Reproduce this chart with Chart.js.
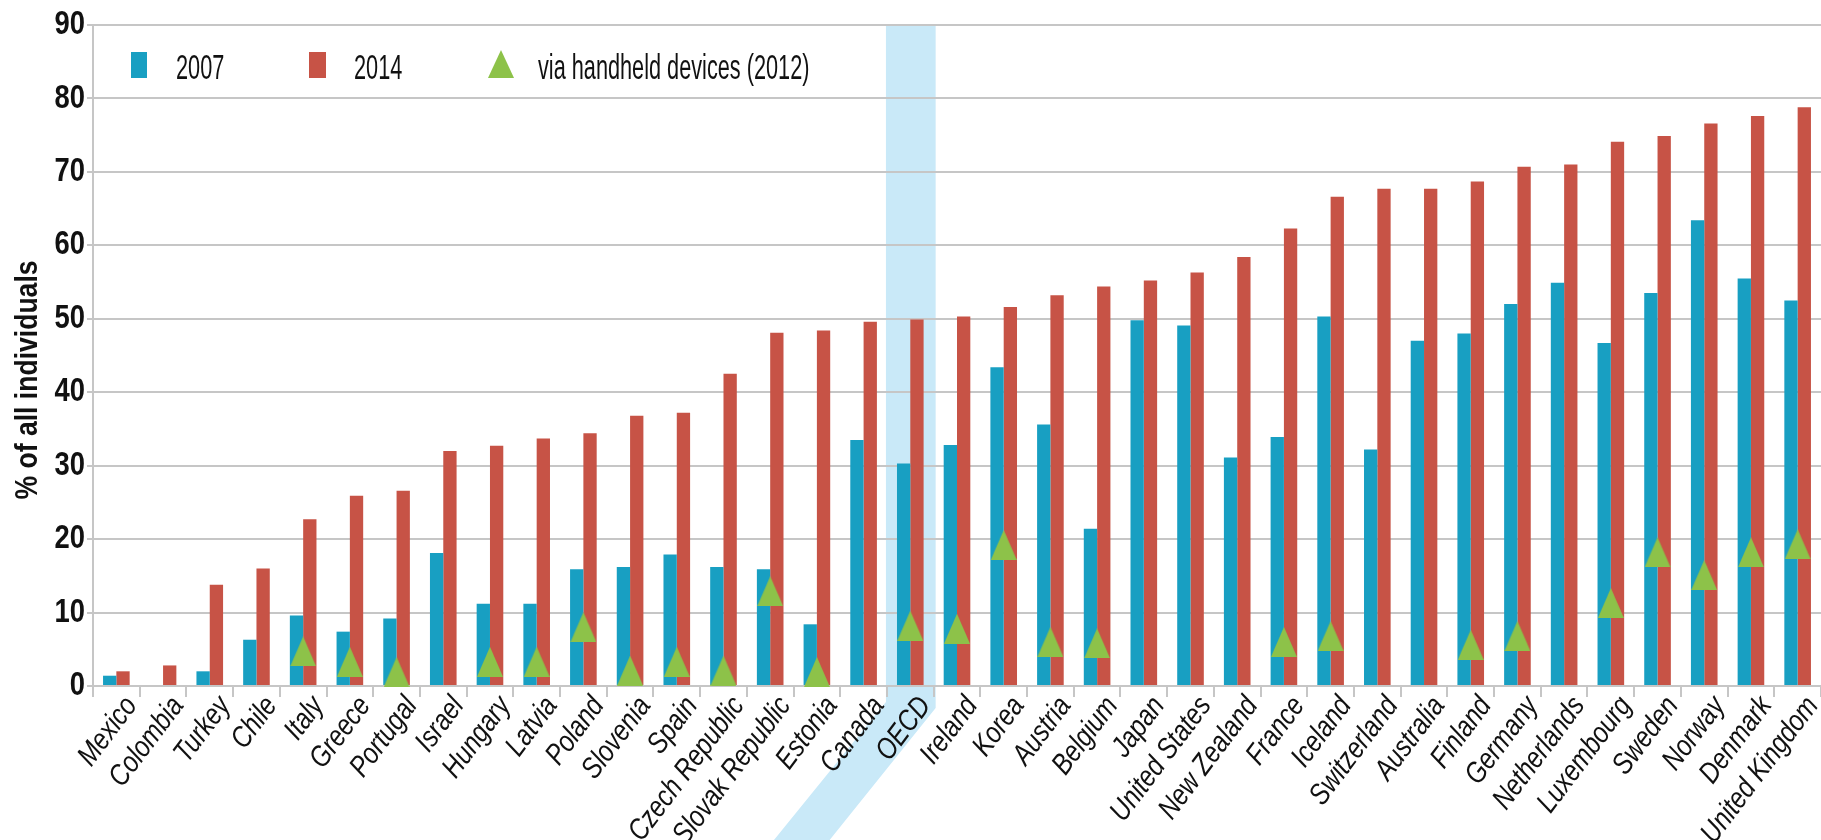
<!DOCTYPE html>
<html><head><meta charset="utf-8">
<script src="https://cdn.jsdelivr.net/npm/chart.js@4/dist/chart.umd.min.js"></script>
<style>
html,body{margin:0;padding:0;background:#fff;overflow:hidden}
#wrap{position:relative;width:1821px;height:840px}
canvas{display:block}
.lg{position:absolute;font-family:"Liberation Sans",Arial,sans-serif;font-size:35px;line-height:35px;color:#111;white-space:nowrap;transform:scaleX(0.62);transform-origin:0 0}
.sw{position:absolute}
</style></head><body>
<div id="wrap">
<canvas id="c" width="1821" height="840"></canvas>
<div class="sw" style="left:131px;top:52px;width:16px;height:26px;background:#189fc2"></div>
<div class="lg" style="left:176px;top:49px">2007</div>
<div class="sw" style="left:309px;top:52px;width:17px;height:26px;background:#c75346"></div>
<div class="lg" style="left:354px;top:49px">2014</div>
<div class="sw" style="left:488px;top:50px;width:0;height:0;border-left:13px solid transparent;border-right:13px solid transparent;border-bottom:28px solid #8dc249"></div>
<div class="lg" style="left:538px;top:49px">via handheld devices (2012)</div>
</div>
<script>
const categories = ["Mexico","Colombia","Turkey","Chile","Italy","Greece","Portugal","Israel","Hungary","Latvia","Poland","Slovenia","Spain","Czech Republic","Slovak Republic","Estonia","Canada","OECD","Ireland","Korea","Austria","Belgium","Japan","United States","New Zealand","France","Iceland","Switzerland","Australia","Finland","Germany","Netherlands","Luxembourg","Sweden","Norway","Denmark","United Kingdom"];
const v2007 = [1.4,null,2.0,6.3,9.6,7.4,9.2,18.1,11.2,11.2,15.9,16.2,17.9,16.2,15.9,8.4,33.5,30.3,32.8,43.4,35.6,21.4,49.8,49.1,31.1,33.9,50.3,32.2,47.0,48.0,52.0,54.9,46.7,53.5,63.4,55.5,52.5];
const v2014 = [2.0,2.8,13.8,16.0,22.7,25.9,26.6,32.0,32.7,33.7,34.4,36.8,37.2,42.5,48.1,48.4,49.6,49.9,50.3,51.6,53.2,54.4,55.2,56.3,58.4,62.3,66.6,67.7,67.7,68.7,70.7,71.0,74.1,74.9,76.6,77.6,78.8];
const vHandheld = [null,null,null,null,4.7,3.3,1.9,null,3.3,3.3,8.0,2.1,3.3,2.1,12.9,1.9,null,8.2,7.8,19.2,6.0,5.8,null,null,null,6.0,6.8,null,null,5.6,6.8,null,11.3,18.2,15.1,18.2,19.3];
const yTicks = [0,10,20,30,40,50,60,70,80,90];
const seriesNames = ["2007","2014","via handheld devices (2012)"];
const yTitle = "% of all individuals";
const highlight = "OECD";

const FONT = '"Liberation Sans",Arial,sans-serif';
const GRID = '#c6c6c6';
const SX = 0.83;

const canvas = document.getElementById('c');
const ctx2d = canvas.getContext('2d');
const origFill = ctx2d.fillText.bind(ctx2d);
ctx2d.fillText = function(t, x, y, mw){
  this.save();
  this.translate(x, y);
  this.scale(SX, 1);
  if (mw === undefined) origFill(t, 0, 0); else origFill(t, 0, 0, mw / SX);
  this.restore();
};

const tri = document.createElement('canvas');
tri.width = 26; tri.height = 30;
(function(){const g=tri.getContext('2d');g.fillStyle='#8dc249';g.beginPath();g.moveTo(13,0);g.lineTo(26,30);g.lineTo(0,30);g.closePath();g.fill();})();

const bandPlugin = {
  id:'band',
  beforeDraw(chart){
    const x = chart.scales.x, y = chart.scales.y, ctx = chart.ctx;
    const i = categories.indexOf(highlight);
    const c = x.getPixelForValue(i);
    const w = x.width / categories.length;
    const L = c - w/2 - 1, R = c + w/2 + 2;
    const top = y.getPixelForValue(90), base = y.getPixelForValue(0);
    const H = chart.height;
    ctx.save();
    ctx.fillStyle = '#c9e9f8';
    ctx.beginPath();
    ctx.moveTo(L, top); ctx.lineTo(R, top); ctx.lineTo(R, base + 22);
    ctx.lineTo(R - 106, H); ctx.lineTo(L - 112, H); ctx.lineTo(L, base + 16);
    ctx.closePath(); ctx.fill();
    ctx.restore();
  }
};
const titlePlugin = {
  id:'ytitle',
  afterDraw(chart){
    const ctx = chart.ctx;
    ctx.save();
    ctx.translate(28, 380);
    ctx.rotate(-Math.PI/2);
    ctx.font = 'bold 32px ' + FONT;
    ctx.fillStyle = '#111';
    ctx.textAlign = 'center';
    ctx.textBaseline = 'middle';
    ctx.fillText(yTitle, 0, 0);
    ctx.restore();
  }
};

new Chart(canvas, {
  data: {
    labels: categories,
    datasets: [
      {type:'bar', label:seriesNames[0], data:v2007, backgroundColor:'#189fc2', categoryPercentage:0.57, barPercentage:1.0, order:1},
      {type:'bar', label:seriesNames[1], data:v2014, backgroundColor:'#c75346', categoryPercentage:0.57, barPercentage:1.0, order:1},
      {type:'line', label:seriesNames[2], data:vHandheld, showLine:false, pointStyle:tri, pointRadius:13, pointHoverRadius:13, backgroundColor:'#8dc249', borderColor:'#8dc249', order:-1, clip:false}
    ]
  },
  options: {
    responsive:false, animation:false, devicePixelRatio:1,
    layout:{autoPadding:false, padding:{top:25,right:0,left:0,bottom:0}},
    plugins:{legend:{display:false}, tooltip:{enabled:false}},
    scales:{
      x:{
        type:'category', offset:true,
        grid:{display:true, drawOnChartArea:false, drawTicks:true, tickLength:11, color:GRID, lineWidth:2, offset:true},
        border:{display:true, color:GRID, width:2},
        ticks:{autoSkip:false, maxRotation:53, minRotation:53, color:'#111', padding:-7, labelOffset:15,
               font:{family:FONT, size:29.5, style:'italic'}},
        afterFit(s){ s.height = 154; s.paddingLeft = 0; s.paddingRight = 0; }
      },
      y:{
        min:0, max:90,
        afterBuildTicks(s){ s.ticks = yTicks.map(v=>({value:v})); },
        grid:{color:GRID, lineWidth:2, tickLength:6, drawTicks:true},
        border:{display:true, color:GRID, width:2},
        ticks:{color:'#111', padding:2, font:{family:FONT, size:33, weight:'bold'}},
        afterFit(s){ s.width = 93; s.paddingTop = 0; s.paddingBottom = 0; }
      }
    }
  },
  plugins:[bandPlugin, titlePlugin]
});
</script>
</body></html>
